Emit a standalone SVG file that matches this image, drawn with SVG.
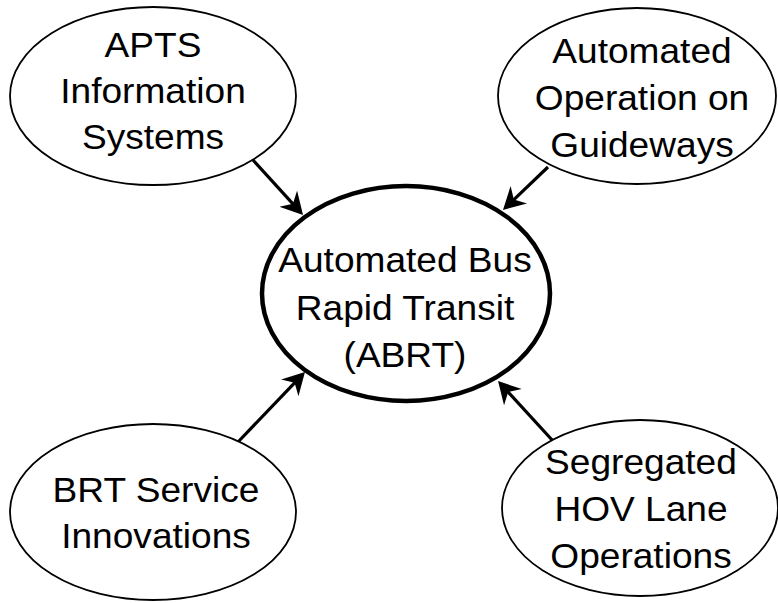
<svg xmlns="http://www.w3.org/2000/svg" width="778" height="603" viewBox="0 0 778 603">
<style>
.node{fill:#fff;stroke:#000;stroke-width:1.8}
.main{fill:#fff;stroke:#000;stroke-width:4.5}
.lbl{font-family:"Liberation Sans",Arial,sans-serif;font-size:35px;fill:#000;text-anchor:middle}
.edge{stroke:#000;stroke-width:3.2;fill:none;marker-end:url(#ah)}
</style>
<defs>
<marker id="ah" markerUnits="userSpaceOnUse" markerWidth="30" markerHeight="30" refX="8" refY="12" orient="auto">
<path d="M0,0 L22,12 L0,24 L7,12 Z" fill="#000"/>
</marker>
</defs>
<rect width="778" height="603" fill="#fff"/>
<g id="connectors">
<path class="edge" d="M253,160 L293.6,204.6"/>
<path class="edge" d="M548,167 L513.1,200.3"/>
<path class="edge" d="M238,442 L295.3,382.1"/>
<path class="edge" d="M553,441 L507.5,391.3"/>
</g>
<g id="apts">
<ellipse class="node" cx="153" cy="96" rx="143" ry="89"/>
<g transform="translate(153,0) scale(1.06,1)"><text class="lbl" x="0" y="57">APTS</text><text class="lbl" x="0" y="103">Information</text><text class="lbl" x="0" y="149">Systems</text></g>
</g>
<g id="guideways">
<ellipse class="node" cx="637" cy="96" rx="139" ry="88"/>
<g transform="translate(642,0) scale(1.06,1)"><text class="lbl" x="0" y="63">Automated</text><text class="lbl" x="0" y="110">Operation on</text><text class="lbl" x="0" y="157">Guideways</text></g>
</g>
<g id="abrt">
<ellipse class="main" cx="406" cy="293.5" rx="144" ry="107.5"/>
<g transform="translate(405,0) scale(1.06,1)"><text class="lbl" x="0" y="272">Automated Bus</text><text class="lbl" x="0" y="320">Rapid Transit</text><text class="lbl" x="0" y="367">(ABRT)</text></g>
</g>
<g id="brt">
<ellipse class="node" cx="153" cy="512" rx="143" ry="88"/>
<g transform="translate(156,0) scale(1.06,1)"><text class="lbl" x="0" y="502">BRT Service</text><text class="lbl" x="0" y="548">Innovations</text></g>
</g>
<g id="hov">
<ellipse class="node" cx="640" cy="508" rx="138" ry="88"/>
<g transform="translate(641,0) scale(1.06,1)"><text class="lbl" x="0" y="474">Segregated</text><text class="lbl" x="0" y="521">HOV Lane</text><text class="lbl" x="0" y="568">Operations</text></g>
</g>
</svg>
